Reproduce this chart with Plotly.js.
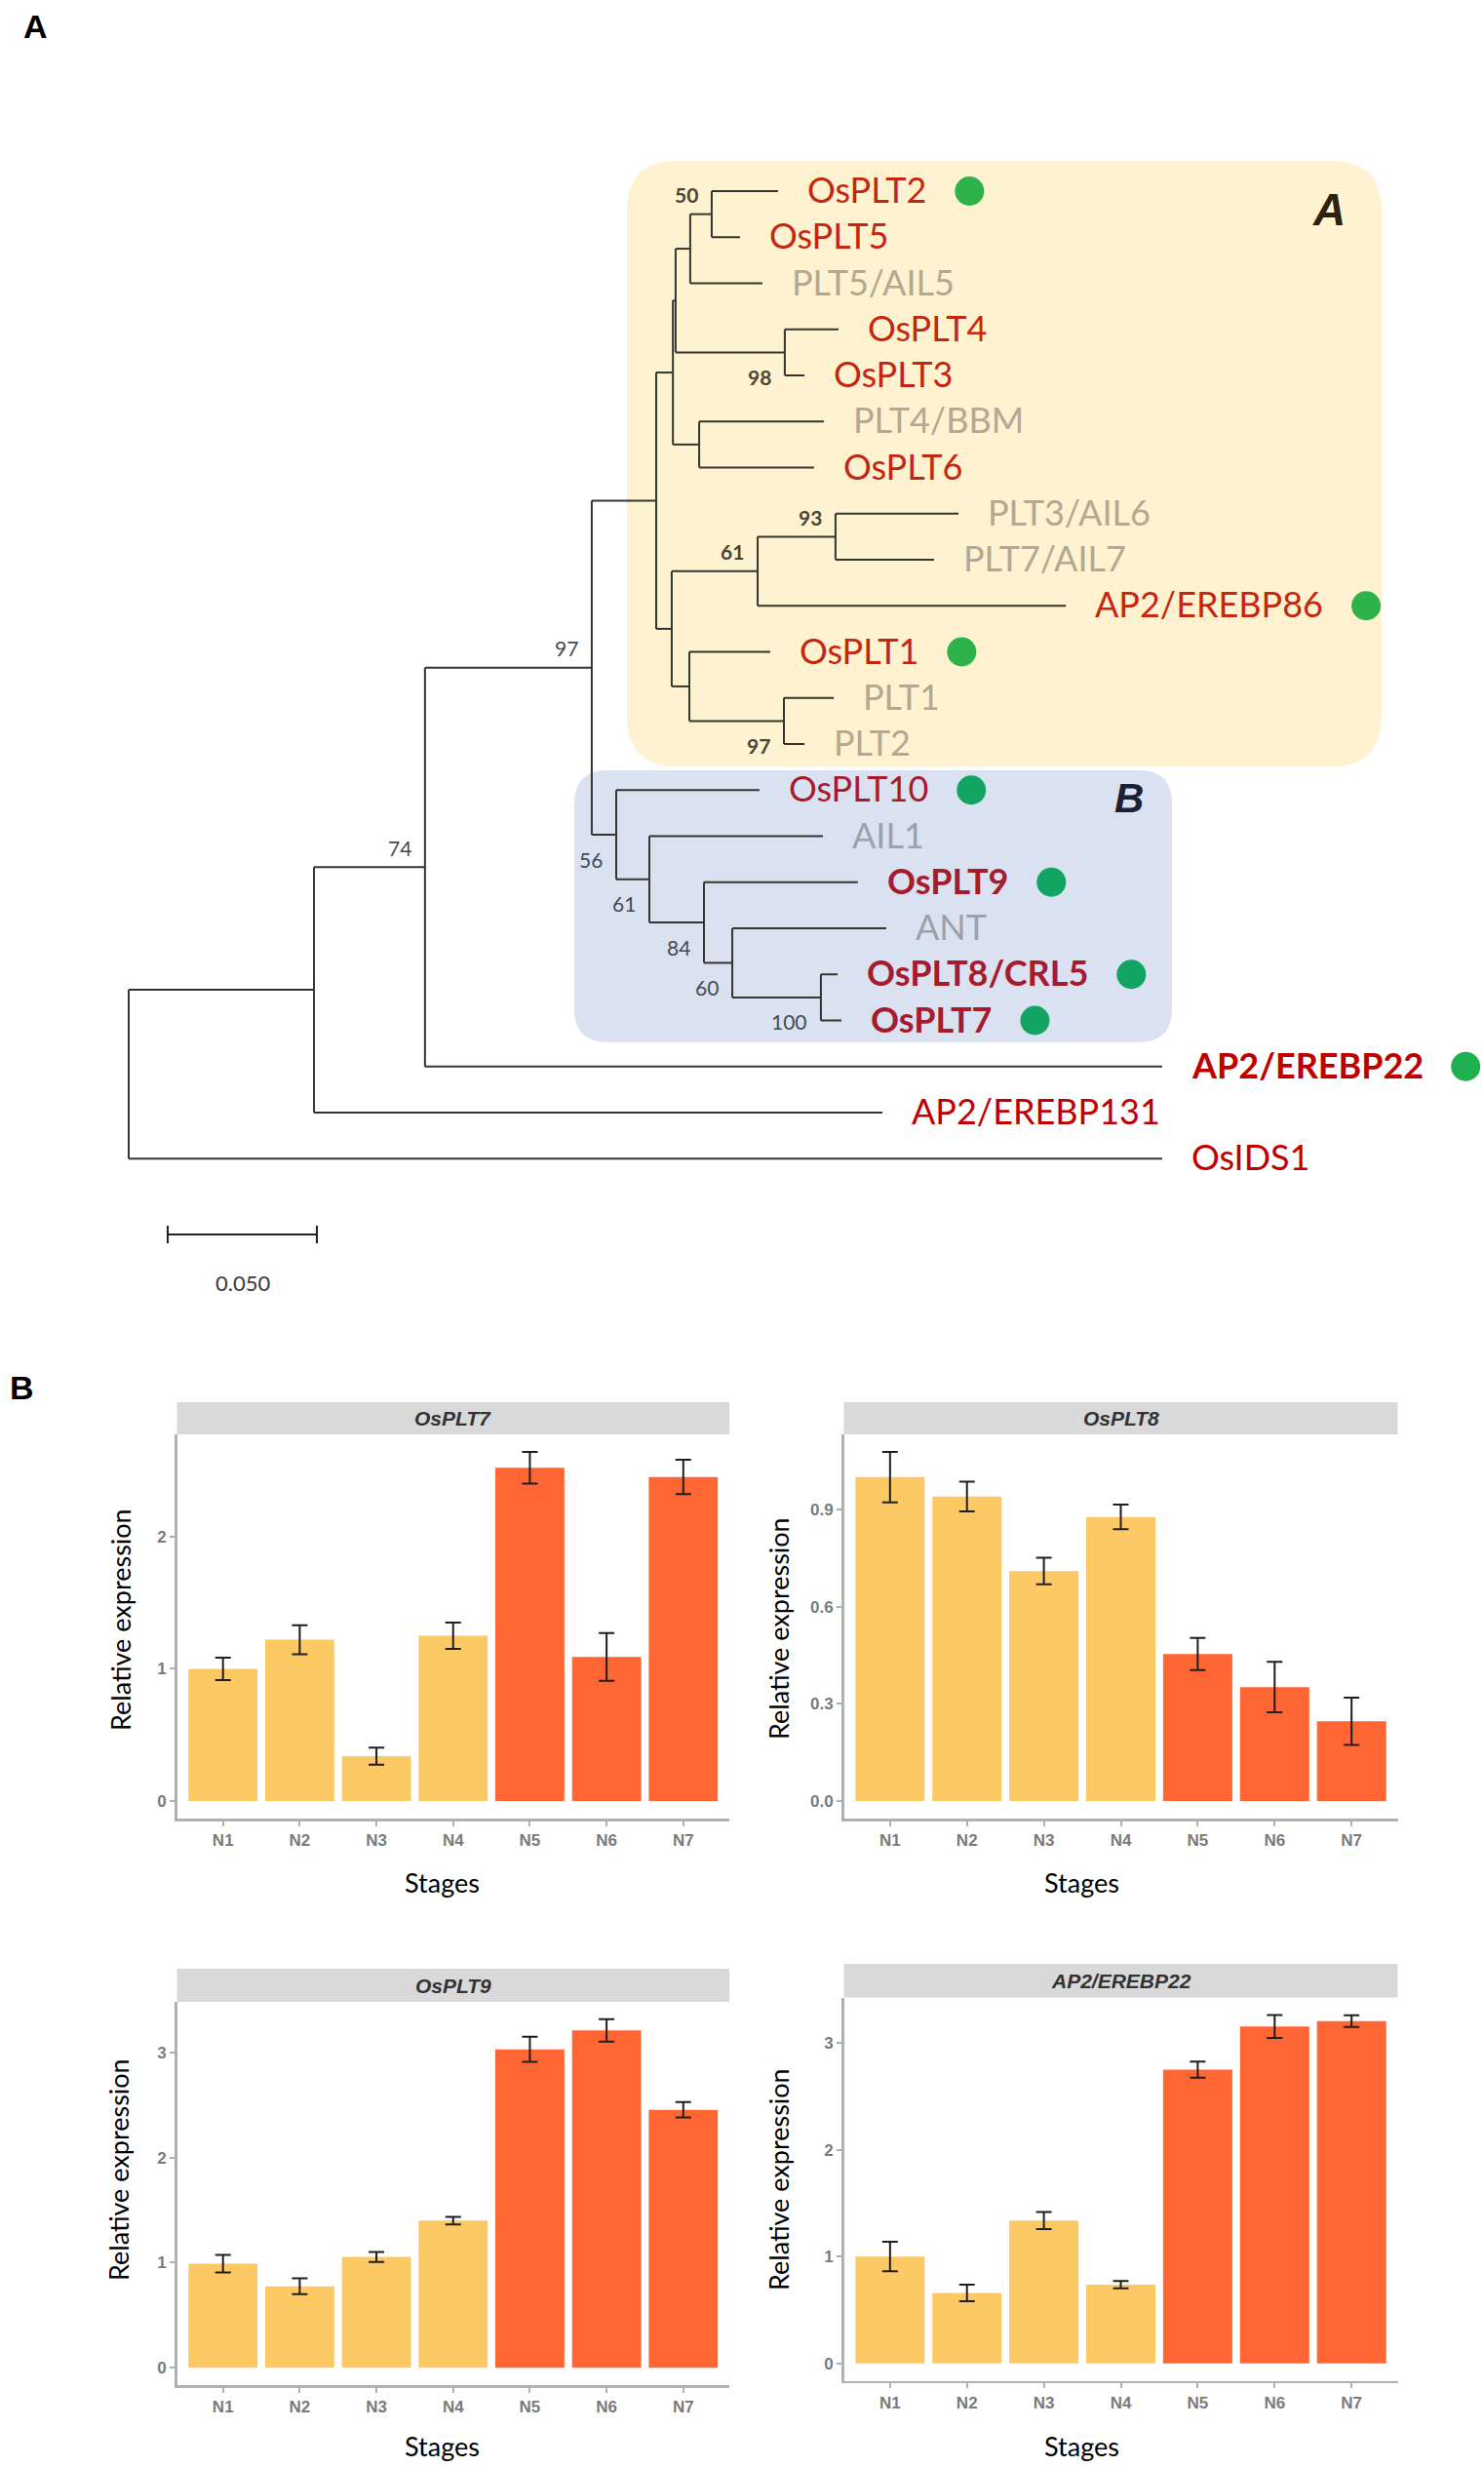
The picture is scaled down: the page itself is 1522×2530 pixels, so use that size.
<!DOCTYPE html>
<html>
<head>
<meta charset="utf-8">
<script src="https://cdn.plot.ly/plotly-3.0.1.min.js"></script>
<style>
  html, body { margin: 0; padding: 0; background: #ffffff; }
  #chart { width: 1522px; height: 2530px; }
</style>
</head>
<body>
<div id="chart"></div>
<script>
// ---------------- DATA: phylogenetic tree (panel A) ----------------
const leafNames = ['OsPLT2','OsPLT5','PLT5/AIL5','OsPLT4','OsPLT3','PLT4/BBM','OsPLT6',
  'PLT3/AIL6','PLT7/AIL7','AP2/EREBP86','OsPLT1','PLT1','PLT2',
  'OsPLT10','AIL1','OsPLT9','ANT','OsPLT8/CRL5','OsPLT7',
  'AP2/EREBP22','AP2/EREBP131','OsIDS1'];
// tip depth (cumulative branch length from root)
const leafDepth = [0.2176,0.2049,0.2124,0.2379,0.2265,0.2330,0.2297,
  0.2781,0.2699,0.3141,0.2150,0.2363,0.2265,
  0.2114,0.2327,0.2444,0.2539,0.2376,0.2389,
  0.3464,0.2526,0.3464];
const leafStyle = ['redA','redA','grayA','redA','redA','grayA','redA',
  'grayA','grayA','redA','redA','grayA','grayA',
  'redB','grayB','redB','grayB','redB','redB',
  'redO','redO','redO'];
const leafBold = [0,0,0,0,0,0,0, 0,0,0,0,0,0, 0,0,1,0,1,1, 1,0,0];
const leafDot  = [1,0,0,0,0,0,0, 0,0,1,1,0,0, 1,0,1,0,1,1, 1,0,0];

const nodeIds = ['n0','n1','n2','n3','nA','nA1','nA2','nA3','nA3a','nA4','nA5',
  'nA6','nA7','nA8','nA9','nA10','nB','nB1','nB2','nB3','nB4'];
const nodeDepth = [0,0.0621,0.0993,0.1552,0.1768,0.1824,0.1833,0.1882,0.1954,0.2199,0.1912,
  0.1820,0.2108,0.2369,0.1879,0.2196,0.1634,0.1745,0.1928,0.2023,0.2320];
const nodeChildren = [
  ['n1','OsIDS1'], ['n2','AP2/EREBP131'], ['n3','AP2/EREBP22'], ['nA','nB'],
  ['nA1','nA6'], ['nA2','nA5'], ['nA3','nA4'], ['nA3a','PLT5/AIL5'],
  ['OsPLT2','OsPLT5'], ['OsPLT4','OsPLT3'], ['PLT4/BBM','OsPLT6'],
  ['nA7','nA9'], ['nA8','AP2/EREBP86'], ['PLT3/AIL6','PLT7/AIL7'],
  ['OsPLT1','nA10'], ['PLT1','PLT2'],
  ['OsPLT10','nB1'], ['AIL1','nB2'], ['OsPLT9','nB3'], ['ANT','nB4'],
  ['OsPLT8/CRL5','OsPLT7']
];
const bootNodes  = ['nA3a','nA4','nA8','nA7','nA10','n3','n2','nB','nB1','nB2','nB3','nB4'];
const bootValues = ['50','98','93','61','97','97','74','56','61','84','60','100'];
const bootPlace  = ['up','down','up','up','down','up','up','down','down','down','down','down'];
const bootBold   = [1,1,1,1,1,0,0,0,0,0,0,0];
const scaleBarLength = 0.050;

// ---------------- DATA: expression bars (panel B) ----------------
const stages = ['N1','N2','N3','N4','N5','N6','N7'];
const stageGroup = ['early','early','early','early','late','late','late'];
const geneNames = ['OsPLT7','OsPLT8','OsPLT9','AP2/EREBP22'];
const exprOsPLT7 = [1.00, 1.22, 0.34, 1.25, 2.52, 1.09, 2.45];
const errOsPLT7  = [0.085, 0.11, 0.065, 0.10, 0.12, 0.18, 0.13];
const exprOsPLT8 = [1.00, 0.94, 0.71, 0.877, 0.454, 0.352, 0.246];
const errOsPLT8  = [0.078, 0.046, 0.041, 0.038, 0.050, 0.078, 0.073];
const exprOsPLT9 = [0.99, 0.775, 1.054, 1.40, 3.03, 3.21, 2.455];
const errOsPLT9  = [0.083, 0.076, 0.048, 0.036, 0.12, 0.106, 0.074];
const exprEREBP22 = [1.00, 0.66, 1.337, 0.737, 2.75, 3.155, 3.205];
const errEREBP22  = [0.138, 0.078, 0.080, 0.034, 0.075, 0.107, 0.055];

// ---------------- layout helpers ----------------
const W = 1522, H = 2530;
const px = v => v / W;
const py = v => 1 - v / H;
// tree axis mapping: x px = X0 + depth*KX ; y px = Y0 + index*KY
const X0 = 132, KX = 3060, Y0 = 196, KY = 47.25;
const TREE_BOTTOM = 1400;

const styleColor = { redA:'#c4260f', grayA:'#b3a892', redB:'#a51c2e', grayB:'#9ca1ab', redO:'#c00000' };
const dotColor = { redA:'#2db34a', redB:'#12a463', redO:'#1fb14f' };
const LABEL_FONT = 'Lato, "Open Sans", sans-serif';
const LABEL_SIZE = 36;

// compute node positions
const pos = {};
leafNames.forEach((n, i) => { pos[n] = { x: leafDepth[i], y: i }; });
function nodeY(id) {
  if (pos[id]) return pos[id].y;
  const k = nodeIds.indexOf(id);
  const ch = nodeChildren[k];
  const ys = ch.map(nodeY);
  const y = (Math.min(...ys) + Math.max(...ys)) / 2;
  pos[id] = { x: nodeDepth[k], y: y };
  return y;
}
nodeY('n0');

// tree segments
const tx = [], ty = [];
nodeIds.forEach((id, k) => {
  const p = pos[id];
  const ch = nodeChildren[k];
  const ys = ch.map(c => pos[c].y);
  tx.push(p.x, p.x, null); ty.push(Math.min(...ys), Math.max(...ys), null);
  ch.forEach(c => { tx.push(p.x, pos[c].x, null); ty.push(pos[c].y, pos[c].y, null); });
});

const traces = [];
traces.push({ x: tx, y: ty, xaxis: 'x', yaxis: 'y', mode: 'lines', type: 'scatter',
  line: { color: '#33352f', width: 2 }, hoverinfo: 'skip', showlegend: false });

// measure text for dot positions
const cv = document.createElement('canvas');
const ctx = cv.getContext('2d');
function textW(t, bold) {
  ctx.font = (bold ? 'bold ' : '') + LABEL_SIZE + 'px Lato';
  return ctx.measureText(t).width;
}
const LABEL_GAP = 28, DOT_GAP = 46;
const dotX = [], dotY = [], dotC = [];
leafNames.forEach((n, i) => {
  if (!leafDot[i]) return;
  const w = textW(n, leafBold[i]);
  dotX.push(leafDepth[i] + (LABEL_GAP + w + DOT_GAP) / KX);
  dotY.push(i);
  dotC.push(dotColor[leafStyle[i]]);
});
traces.push({ x: dotX, y: dotY, xaxis: 'x', yaxis: 'y', mode: 'markers', type: 'scatter',
  marker: { size: 30, color: dotC, line: { width: 0 } }, hoverinfo: 'skip', showlegend: false });

// scale bar
const sbX0 = (172 - X0) / KX, sbY = (1266 - Y0) / KY, tick = 9 / KY;
traces.push({ x: [sbX0, sbX0 + scaleBarLength, null, sbX0, sbX0, null, sbX0 + scaleBarLength, sbX0 + scaleBarLength],
  y: [sbY, sbY, null, sbY - tick, sbY + tick, null, sbY - tick, sbY + tick],
  xaxis: 'x', yaxis: 'y', mode: 'lines', type: 'scatter', line: { color: '#222', width: 2 },
  hoverinfo: 'skip', showlegend: false });

const annotations = [];
function paperNote(xp, yp, text, font, extra) {
  return Object.assign({ x: px(xp), y: py(yp), xref: 'paper', yref: 'paper', text: text,
    showarrow: false, xanchor: 'center', yanchor: 'middle', font: font }, extra || {});
}
// leaf labels
leafNames.forEach((n, i) => {
  annotations.push({ x: leafDepth[i], y: i, xref: 'x', yref: 'y', text: leafBold[i] ? '<b>' + n + '</b>' : n,
    showarrow: false, xanchor: 'left', yanchor: 'middle', xshift: LABEL_GAP, yshift: 2,
    font: { family: LABEL_FONT, size: LABEL_SIZE, color: styleColor[leafStyle[i]] } });
});
// bootstrap labels
bootNodes.forEach((id, k) => {
  const p = pos[id];
  annotations.push({ x: p.x, y: p.y, xref: 'x', yref: 'y',
    text: bootBold[k] ? '<b>' + bootValues[k] + '</b>' : bootValues[k],
    showarrow: false, xanchor: 'right', yanchor: 'middle', xshift: -12,
    yshift: bootPlace[k] === 'up' ? 20 : -25,
    font: { family: 'Lato, sans-serif', size: 21, color: bootBold[k] ? '#4a4636' : '#454a52' } });
});
annotations.push({ x: sbX0 + scaleBarLength / 2, y: (1318 - Y0) / KY, xref: 'x', yref: 'y', text: '0.050',
  showarrow: false, xanchor: 'center', yanchor: 'middle', yshift: 3, font: { family: 'Lato, sans-serif', size: 22, color: '#3a3a3a' } });
// clade letters
annotations.push(paperNote(1363, 215, '<b><i>A</i></b>', { family: '"Liberation Sans", Arial, sans-serif', size: 46, color: '#2b2210' }));
annotations.push(paperNote(1158, 818, '<b><i>B</i></b>', { family: '"Liberation Sans", Arial, sans-serif', size: 42, color: '#1b2035' }));
// panel letters
annotations.push(paperNote(36, 27, '<b>A</b>', { family: '"Liberation Sans", Arial, sans-serif', size: 34, color: '#000' }));
annotations.push(paperNote(22, 1423, '<b>B</b>', { family: '"Liberation Sans", Arial, sans-serif', size: 34, color: '#000' }));

// rounded boxes around clades (in pixel space -> tree data coords)
function roundRect(x0, y0, x1, y1, r) {
  const X = v => (v - X0) / KX, Y = v => (v - Y0) / KY;
  return 'M ' + X(x0 + r) + ',' + Y(y0) +
    ' L ' + X(x1 - r) + ',' + Y(y0) + ' Q ' + X(x1) + ',' + Y(y0) + ' ' + X(x1) + ',' + Y(y0 + r) +
    ' L ' + X(x1) + ',' + Y(y1 - r) + ' Q ' + X(x1) + ',' + Y(y1) + ' ' + X(x1 - r) + ',' + Y(y1) +
    ' L ' + X(x0 + r) + ',' + Y(y1) + ' Q ' + X(x0) + ',' + Y(y1) + ' ' + X(x0) + ',' + Y(y1 - r) +
    ' L ' + X(x0) + ',' + Y(y0 + r) + ' Q ' + X(x0) + ',' + Y(y0) + ' ' + X(x0 + r) + ',' + Y(y0) + ' Z';
}
const shapes = [];
// clade A box spans leaves 0..12, clade B box spans leaves 13..18
const boxAy0 = Y0 + (0 - 0.66) * KY, boxAy1 = Y0 + (12 + 0.49) * KY;
const boxBy0 = Y0 + (13 - 0.43) * KY, boxBy1 = Y0 + (18 + 0.47) * KY;
shapes.push({ type: 'path', xref: 'x', yref: 'y', layer: 'below', path: roundRect(643, boxAy0, 1417, boxAy1, 52),
  fillcolor: '#fef2d0', line: { width: 0 } });
shapes.push({ type: 'path', xref: 'x', yref: 'y', layer: 'below', path: roundRect(589, boxBy0, 1202, boxBy1, 34),
  fillcolor: '#dae2f2', line: { width: 0 } });

// ---------------- bar panels ----------------
const panels = [
  { gene: geneNames[0], v: exprOsPLT7, e: errOsPLT7, x0: 181.5, x1: 748, y0: 1471, y1: 1865, s0: 1438, dtick: 1, fmt: 'd', ytx: 123, yty: 1661, stx: 453, sty: 1930 },
  { gene: geneNames[1], v: exprOsPLT8, e: errOsPLT8, x0: 865.5, x1: 1433.5, y0: 1471, y1: 1865, s0: 1438, dtick: 0.3, fmt: '.1f', ytx: 798, yty: 1670, stx: 1109, sty: 1930 },
  { gene: geneNames[2], v: exprOsPLT9, e: errOsPLT9, x0: 181.5, x1: 748, y0: 2053, y1: 2446, s0: 2019, dtick: 1, fmt: 'd', ytx: 121, yty: 2225, stx: 453, sty: 2508 },
  { gene: geneNames[3], v: exprEREBP22, e: errEREBP22, x0: 865.5, x1: 1433.5, y0: 2048.6, y1: 2441.6, s0: 2014, dtick: 1, fmt: 'd', ytx: 798, yty: 2235, stx: 1109, sty: 2508 }
];
const barColor = { early: '#fdc964', late: '#ff6633' };
const layoutAxes = {};
panels.forEach((p, k) => {
  const n = k + 2;
  const xa = 'x' + n, ya = 'y' + n;
  traces.push({ type: 'bar', x: stages, y: p.v, xaxis: xa, yaxis: ya, width: 0.9,
    marker: { color: stageGroup.map(g => barColor[g]), line: { width: 0 } },
    error_y: { type: 'data', array: p.e, visible: true, color: '#1e1e1e', thickness: 2, width: 8 },
    hoverinfo: 'skip', showlegend: false });
  const top = Math.max(...p.v.map((v, i) => v + p.e[i]));
  const axFont = { family: '"Liberation Sans", Arial, sans-serif', size: 17, color: '#7a7a7a', weight: 'bold' };
  layoutAxes['xaxis' + n] = { domain: [px(p.x0), px(p.x1)], anchor: ya, type: 'category', range: [-0.6, 6.6],
    showline: true, linecolor: '#b0b0b0', linewidth: 2.5, ticks: 'outside', ticklen: 5, tickwidth: 2, tickcolor: '#b0b0b0',
    tickfont: axFont, showgrid: false, zeroline: false, fixedrange: true };
  layoutAxes['yaxis' + n] = { domain: [py(p.y1), py(p.y0)], anchor: xa, range: [-0.05 * top, 1.05 * top],
    dtick: p.dtick, tick0: 0, tickformat: p.fmt,
    showline: true, linecolor: '#b0b0b0', linewidth: 2.5, ticks: 'outside', ticklen: 5, tickwidth: 2, tickcolor: '#b0b0b0',
    tickfont: axFont, showgrid: false, zeroline: false, fixedrange: true };
  shapes.push({ type: 'rect', xref: 'paper', yref: 'paper', x0: px(p.x0), x1: px(p.x1), y0: py(p.y0), y1: py(p.s0),
    fillcolor: '#d9d9d9', line: { width: 0 }, layer: 'below' });
  annotations.push(paperNote((p.x0 + p.x1) / 2, (p.s0 + p.y0) / 2, '<b><i>' + p.gene + '</i></b>',
    { family: '"Liberation Sans", Arial, sans-serif', size: 21, color: '#333333' }));
  annotations.push(paperNote(p.ytx, p.yty, 'Relative expression',
    { family: 'Lato, sans-serif', size: 27, color: '#000' }, { textangle: -90 }));
  annotations.push(paperNote(p.stx, p.sty, 'Stages', { family: 'Lato, sans-serif', size: 27, color: '#000' }));
});

const layout = Object.assign({
  width: W, height: H, margin: { l: 0, r: 0, t: 0, b: 0 },
  paper_bgcolor: '#ffffff', plot_bgcolor: 'rgba(0,0,0,0)', showlegend: false,
  xaxis: { domain: [0, 1], range: [-X0 / KX, (W - X0) / KX], visible: false, fixedrange: true },
  yaxis: { domain: [py(TREE_BOTTOM), 1], range: [(TREE_BOTTOM - Y0) / KY, -Y0 / KY], visible: false, fixedrange: true },
  shapes: shapes, annotations: annotations, bargap: 0.1
}, layoutAxes);

Plotly.newPlot('chart', traces, layout, { displayModeBar: false, staticPlot: true });
</script>
</body>
</html>
